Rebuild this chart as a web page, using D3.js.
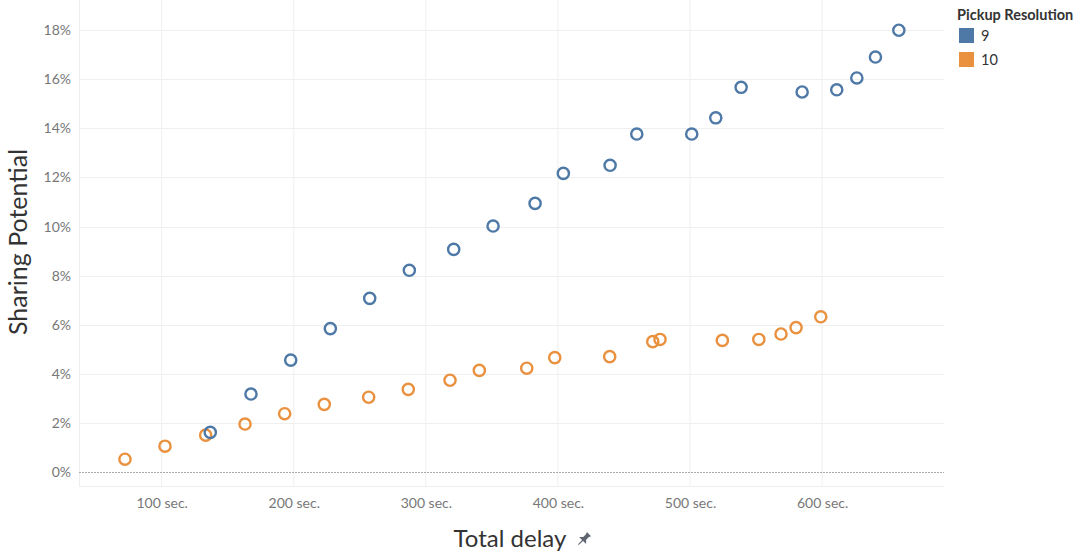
<!DOCTYPE html>
<html>
<head>
<meta charset="utf-8">
<script src="https://cdn.jsdelivr.net/npm/d3@7"></script>
<style>
  html, body { margin: 0; padding: 0; background: #fff; }
  svg { display: block; font-family: Lato, "Noto Sans", sans-serif; }
</style>
</head>
<body>
<svg id="chart" width="1081" height="556"></svg>
<script>
// ---- data ----
const seriesNames = ["9", "10"];
const seriesColors = ["#4e79a7", "#e9913f"];

const delay9 = [136.8, 167.6, 197.7, 227.7, 257.5, 287.5, 321.1, 350.9, 382.7, 404.1,
                439.5, 459.7, 501.3, 519.5, 538.7, 584.9, 611.1, 626.3, 640.4, 658.1];
const share9 = [0.0163, 0.0319, 0.0457, 0.0585, 0.0708, 0.0822, 0.0907, 0.1002, 0.1094, 0.1216,
                0.1249, 0.1376, 0.1376, 0.1442, 0.1566, 0.1547, 0.1556, 0.1604, 0.1689, 0.1798];

const delay10 = [72.2, 102.5, 133.3, 163.1, 193.1, 223.1, 256.7, 286.7, 318.3, 340.5,
                 376.4, 397.6, 439.2, 471.8, 477.3, 524.5, 552.1, 568.9, 580.3, 599.0];
const share10 = [0.0054, 0.0107, 0.0152, 0.0197, 0.0239, 0.0277, 0.0306, 0.0338, 0.0375, 0.0415,
                 0.0424, 0.0467, 0.0471, 0.0532, 0.0541, 0.0537, 0.0541, 0.0563, 0.0589, 0.0633];

const xTicks = [100, 200, 300, 400, 500, 600];
const yTicks = [0, 0.02, 0.04, 0.06, 0.08, 0.10, 0.12, 0.14, 0.16, 0.18];

const xTitle = "Total delay";
const yTitle = "Sharing Potential";
const legendTitle = "Pickup Resolution";

// ---- layout ----
const svg = d3.select("#chart");
const plot = { left: 79, right: 944, top: 0, bottom: 486 };

const x = d3.scaleLinear().domain([37.4, 692.3]).range([plot.left, plot.right]);
const y = d3.scaleLinear().domain([-0.00549, 0.1921]).range([plot.bottom, plot.top]);

// gridlines
const g = svg.append("g");
g.selectAll(".vg").data(xTicks).join("line")
  .attr("x1", d => x(d)).attr("x2", d => x(d))
  .attr("y1", plot.top).attr("y2", plot.bottom)
  .attr("stroke", "#efefef").attr("stroke-width", 1);
g.selectAll(".hg").data(yTicks.filter(d => d !== 0)).join("line")
  .attr("x1", plot.left).attr("x2", plot.right)
  .attr("y1", d => Math.round(y(d)) + 0.5).attr("y2", d => Math.round(y(d)) + 0.5)
  .attr("stroke", "#efefef").attr("stroke-width", 1);

// plot borders (left + bottom)
g.append("line").attr("x1", plot.left + 0.5).attr("x2", plot.left + 0.5)
  .attr("y1", plot.top).attr("y2", plot.bottom).attr("stroke", "#eeeeee");
g.append("line").attr("x1", plot.left).attr("x2", plot.right)
  .attr("y1", plot.bottom + 0.5).attr("y2", plot.bottom + 0.5).attr("stroke", "#eeeeee");

// zero line
g.append("line").attr("x1", plot.left).attr("x2", plot.right)
  .attr("y1", Math.round(y(0)) + 0.5).attr("y2", Math.round(y(0)) + 0.5)
  .attr("stroke", "#aaaaaa").attr("stroke-width", 1).attr("stroke-dasharray", "2,1");

// axes
const yAxis = d3.axisLeft(y).tickValues(yTicks).tickFormat(d3.format(".0%")).tickSize(0).tickPadding(8);
const yg = svg.append("g").attr("transform", `translate(${plot.left},0)`).call(yAxis);
yg.select(".domain").remove();
yg.selectAll("text").attr("font-size", 14).attr("fill", "#777777")
  .attr("font-family", "Lato, sans-serif");

const xAxis = d3.axisBottom(x).tickValues(xTicks).tickFormat(d => d + " sec.").tickSize(0).tickPadding(12);
const xg = svg.append("g").attr("transform", `translate(0,${plot.bottom})`).call(xAxis);
xg.select(".domain").remove();
xg.selectAll("text").attr("font-size", 14).attr("fill", "#777777")
  .attr("font-family", "Lato, sans-serif");

// axis titles
svg.append("text").attr("x", 510).attr("y", 547)
  .attr("text-anchor", "middle").attr("font-size", 24).attr("fill", "#333")
  .text(xTitle);
// pin icon
svg.append("path")
  .attr("transform", "translate(584,539) rotate(45)")
  .attr("d", "M-3,-7 L3,-7 L2,-5 L2,-1 L5,2 L-5,2 L-2,-1 L-2,-5 Z M-0.7,2 L0.7,2 L0.4,8 L-0.4,8 Z")
  .attr("fill", "#5f6670");

svg.append("text")
  .attr("transform", `translate(27,242) rotate(-90)`)
  .attr("text-anchor", "middle").attr("font-size", 25).attr("fill", "#333")
  .text(yTitle);

// points
const seriesData = [
  delay9.map((d, i) => ({ x: d, y: share9[i] })),
  delay10.map((d, i) => ({ x: d, y: share10[i] }))
];
// draw orange first, then blue on top (blue overlaps at ~137s)
[1, 0].forEach(si => {
  svg.append("g").selectAll("circle").data(seriesData[si]).join("circle")
    .attr("cx", d => x(d.x)).attr("cy", d => y(d.y)).attr("r", 5.6)
    .attr("fill", "none").attr("stroke", seriesColors[si]).attr("stroke-width", 2.4);
});

// legend
const lg = svg.append("g").attr("transform", "translate(957,0)");
lg.append("text").attr("x", 0).attr("y", 20).attr("font-size", 14.5)
  .attr("font-weight", "bold").attr("fill", "#333").text(legendTitle);
seriesNames.forEach((n, i) => {
  lg.append("rect").attr("x", 2).attr("y", 28 + i * 24).attr("width", 15).attr("height", 15)
    .attr("fill", seriesColors[i]);
  lg.append("text").attr("x", 24).attr("y", 41 + i * 24).attr("font-size", 14.5)
    .attr("fill", "#333").text(n);
});
</script>
</body>
</html>
